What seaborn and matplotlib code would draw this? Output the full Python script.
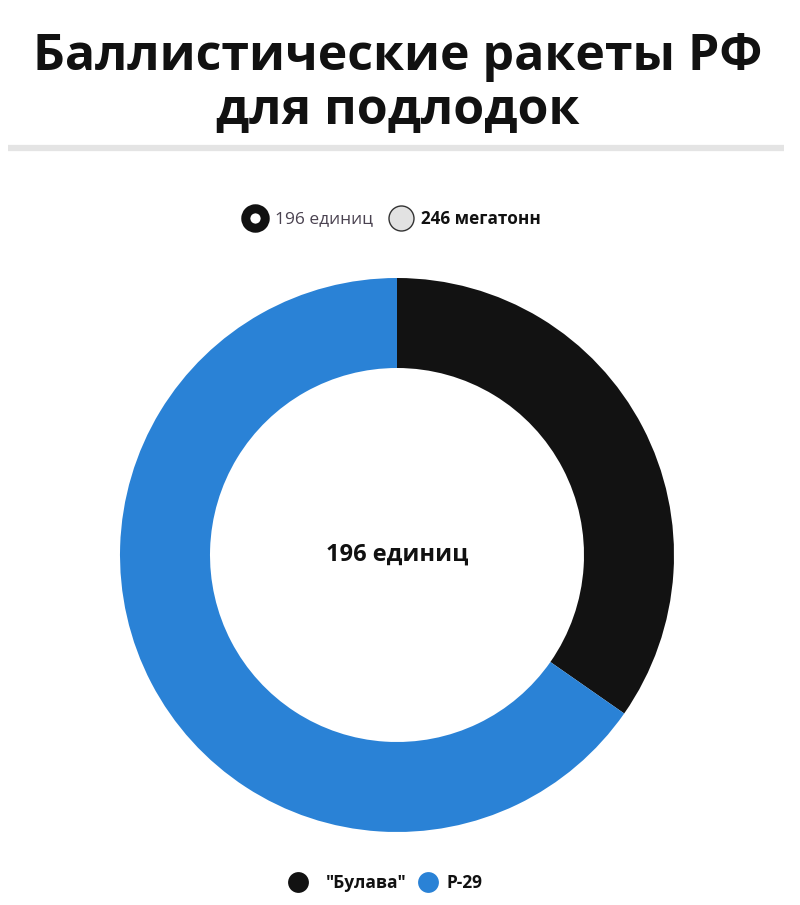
import matplotlib
matplotlib.use("Agg")
import matplotlib.pyplot as plt
import seaborn as sns
from matplotlib.lines import Line2D

sns.set_theme(style="white")
plt.rcParams['font.family'] = ['Open Sans', 'DejaVu Sans']

# ---- data ----
categories = ['"Булава"', 'Р-29']
values = [68, 128]
colors = ['#121212', '#2a82d6']
title = "Баллистические ракеты РФ\nдля подлодок"
center_label = "196 единиц"
toggle_labels = ["196 единиц", "246 мегатонн"]

W, H = 800, 905
fig = plt.figure(figsize=(W / 100, H / 100), dpi=100)
fig.patch.set_facecolor('white')

# donut axes: center (397,555), outer radius 277 px
R = 277
cx, cy = 397, 555
ax = fig.add_axes([(cx - R) / W, (H - cy - R) / H, 2 * R / W, 2 * R / H])
ax.pie(values, colors=colors, startangle=90, counterclock=False,
       radius=1.0, wedgeprops=dict(width=90 / R, linewidth=0))
ax.set_xlim(-1, 1)
ax.set_ylim(-1, 1)
ax.set_aspect('equal')
ax.axis('off')
ax.text(0, 0, center_label, ha='center', va='center', fontsize=17,
        fontweight='bold', color='#111111')

# overlay for layout in pixel coordinates
ov = fig.add_axes([0, 0, 1, 1], zorder=-1)
ov.set_xlim(0, W)
ov.set_ylim(H, 0)
ov.axis('off')

ov.text(W / 2 - 2, 84, title, ha='center', va='center', fontsize=36,
        fontweight='bold', color='#111111', linespacing=1.12)
ov.plot([8, 784], [148, 148], color='#e4e4e4', linewidth=4.5,
        solid_capstyle='butt')

# top toggle legend
ov.add_line(Line2D([255], [218], marker='o', markersize=14, markerfacecolor='white',
                   markeredgecolor='#111111', markeredgewidth=6.5, linestyle='none'))
ov.text(275, 219, toggle_labels[0], ha='left', va='center', fontsize=12.5,
        color='#4a4250')
ov.add_line(Line2D([401], [218], marker='o', markersize=18, markerfacecolor='#e2e2e2',
                   markeredgecolor='#333333', markeredgewidth=1.0, linestyle='none'))
ov.text(421, 219, toggle_labels[1], ha='left', va='center', fontsize=12.3,
        fontweight='bold', color='#111111')

# bottom legend
lx = [298, 428]
tx = [326, 446]
for c, lab, x0, x1 in zip(colors, categories, lx, tx):
    ov.add_line(Line2D([x0], [882], marker='o', markersize=15, markerfacecolor=c,
                       markeredgewidth=0, linestyle='none'))
    ov.text(x1, 883, lab, ha='left', va='center', fontsize=12.5,
            fontweight='bold', color='#111111')

fig.savefig("out.png", dpi=100, facecolor='white')
